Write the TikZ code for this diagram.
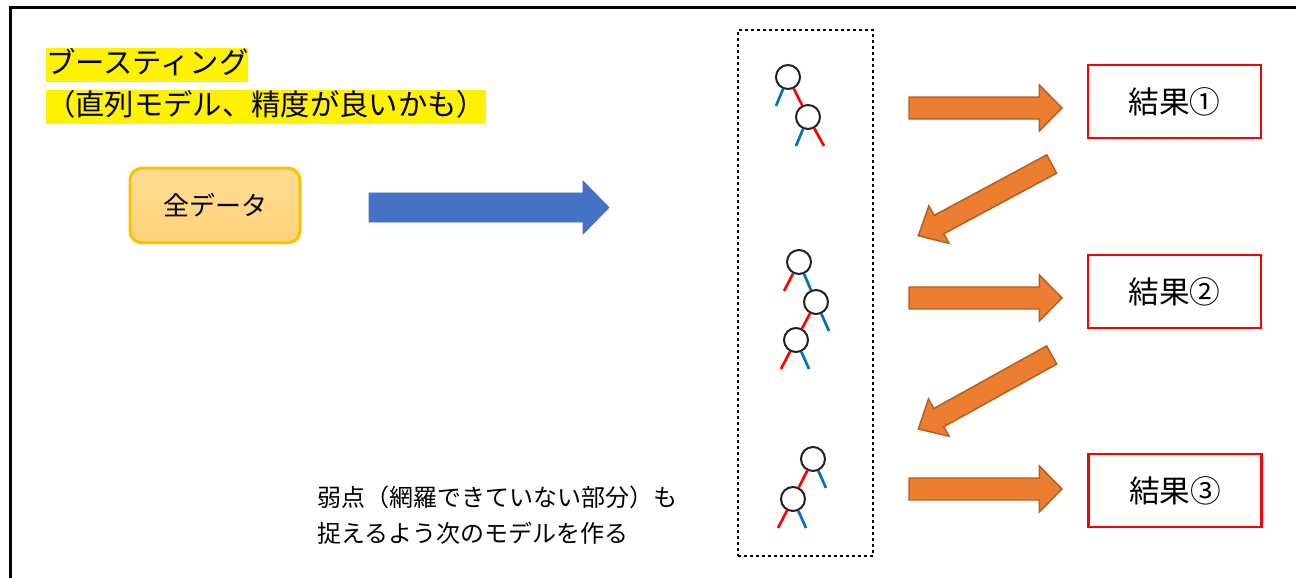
\documentclass[tikz,border=0pt]{standalone}
\usepackage{fontspec}
\newfontfamily\jp{Noto Sans CJK JP}
\usetikzlibrary{calc}
\definecolor{orangeA}{HTML}{ED7D31}
\definecolor{orangeB}{HTML}{B0601F}
\definecolor{blueA}{HTML}{4472C4}
\definecolor{leafblue}{HTML}{0070C0}
\definecolor{gold}{HTML}{FFC000}
\definecolor{lightorangeT}{HTML}{FFDC92}
\definecolor{lightorangeB}{HTML}{FFD27A}
\definecolor{treegray}{HTML}{222222}
\newcommand\blockarrow[6]{%
  \coordinate (ba-h) at ($(#3)!#6!(#2)$);
  \path[#1] ($(#2)!#4!90:(#3)$) -- ($(ba-h)!#4!-90:(#2)$) -- ($(ba-h)!#5!-90:(#2)$) -- (#3)
    -- ($(ba-h)!#5!90:(#2)$) -- ($(ba-h)!#4!90:(#2)$) -- ($(#2)!#4!-90:(#3)$) -- cycle;
}
\tikzset{
  hl/.style={anchor=west, fill=yellow, inner xsep=0pt, inner ysep=0pt, text height=19.5pt, text depth=6.5pt, font=\jp\fontsize{22pt}{26pt}\selectfont},
  databox/.style={draw=gold, line width=2.25pt, rounded corners=9pt, top color=lightorangeT, bottom color=lightorangeB, minimum width=127.5pt, minimum height=56pt, font=\jp\fontsize{19.5pt}{23pt}\selectfont},
  resbox/.style={draw=red, line width=1.6pt, fill=white, minimum width=129.75pt, minimum height=54.75pt, font=\jp\fontsize{23pt}{27pt}\selectfont},
  orangearrow/.style={fill=orangeA, draw=orangeB, line width=1.1pt, line join=miter},
  bluearrow/.style={fill=blueA, draw=blueA, line width=0.5pt},
  tnode/.style={circle, draw=treegray, line width=1.5pt, minimum size=18pt, inner sep=0pt},
  redleaf/.style={draw=red, line width=2pt},
  blueleaf/.style={draw=leafblue, line width=2pt},
  note/.style={anchor=west, align=left, inner sep=0pt, font=\jp\fontsize{18pt}{27pt}\selectfont},
}
\begin{document}
\begin{tikzpicture}[x=0.75pt,y=-0.75pt]
\useasboundingbox (0,0) rectangle (1296,578);
% frame
\draw[line width=2.25pt] (10,578) -- (10,7) -- (1296,7);

% title
\node[hl] (t1) at (46,65) {ブースティング};
\node[hl] (t2) at (46,107) {（直列モデル、精度が良いかも）};

% all data
\node[databox] (data) at (215,205.5) {全データ};

% blue arrow
\coordinate (b1s) at (369,207.5);
\coordinate (b1e) at (609,207.5);
\blockarrow{bluearrow}{b1s}{b1e}{10.9pt}{20pt}{19.5pt}

% dotted container
\node[draw, line width=2.2pt, dash pattern=on 2.2pt off 2.3pt, minimum width=101.25pt, minimum height=394.5pt, inner sep=0pt] (box) at (805.5,293) {};

% tree 1
\node[tnode] (a1) at (788,77) {};
\node[tnode] (a2) at (808,117) {};
\draw[redleaf] (a1) -- (a2);
\draw[blueleaf] (a1) -- ++(-12,29);
\draw[blueleaf] (a2) -- ++(-12,29);
\draw[redleaf] (a2) -- ++(16,29);

% tree 2
\node[tnode] (b1) at (799,262) {};
\node[tnode] (b2) at (816,302) {};
\node[tnode] (b3) at (796,340) {};
\draw[redleaf] (b1) -- ++(-15,29);
\draw[blueleaf] (b1) -- (b2);
\draw[blueleaf] (b2) -- ++(13,29);
\draw[redleaf] (b2) -- (b3);
\draw[redleaf] (b3) -- ++(-15,29);
\draw[blueleaf] (b3) -- ++(13,29);

% tree 3
\node[tnode] (c1) at (813,459) {};
\node[tnode] (c2) at (793,499) {};
\draw[redleaf] (c1) -- (c2);
\draw[blueleaf] (c1) -- ++(13,29);
\draw[redleaf] (c2) -- ++(-15,29);
\draw[blueleaf] (c2) -- ++(13,29);

% results
\node[resbox] (r1) at (1174.5,101.5) {結果①};
\node[resbox] (r2) at (1174.5,291.5) {結果②};
\node[resbox] (r3) at (1175,490.7) {結果③};

% orange arrows
\coordinate (o1s) at (909,108);   \coordinate (o1e) at (1062,108);
\coordinate (o2s) at (909,298);   \coordinate (o2e) at (1062,298);
\coordinate (o3s) at (909,489);   \coordinate (o3e) at (1062,489);
\blockarrow{orangearrow}{o1s}{o1e}{8.25pt}{17.25pt}{17pt}
\blockarrow{orangearrow}{o2s}{o2e}{8.25pt}{17.25pt}{17pt}
\blockarrow{orangearrow}{o3s}{o3e}{8.25pt}{17.25pt}{17pt}
\coordinate (d1s) at (1051.7,164); \coordinate (d1e) at (918.3,235.7);
\coordinate (d2s) at (1051.7,355); \coordinate (d2e) at (918.3,429);
\blockarrow{orangearrow}{d1s}{d1e}{7.8pt}{16pt}{17.6pt}
\blockarrow{orangearrow}{d2s}{d2e}{7.8pt}{16pt}{17.6pt}

% note
\node[note] (n) at (317,515) {弱点（網羅できていない部分）も\\捉えるよう次のモデルを作る};
\end{tikzpicture}
\end{document}
